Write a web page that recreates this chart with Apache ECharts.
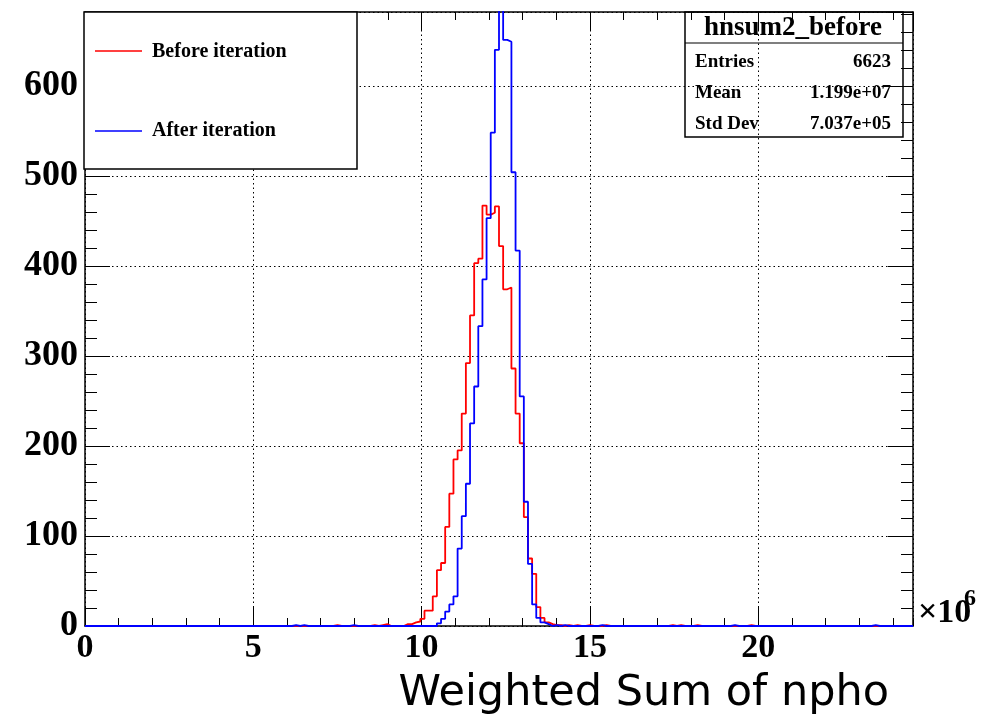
<!DOCTYPE html>
<html><head><meta charset="utf-8">
<script src="https://cdn.jsdelivr.net/npm/echarts@6/dist/echarts.min.js"></script>
<style>html,body{margin:0;padding:0;background:#fff}#c{width:997px;height:715px}</style>
</head><body><div id="c"></div>
<script>
// ---- data (x in units of 10^6) ----
const histTitle = 'hnsum2_before';
const seriesNames = ['Before iteration', 'After iteration'];
const statsLabels = ['Entries', 'Mean', 'Std Dev'];
const statsValues = ['6623', '1.199e+07', '7.037e+05'];
const xTitle = 'Weighted Sum of npho';
const xExponent = '6';
const nBins = 200;
const xLow = 0;
const xHigh = 24.6;
const yTop = 682;

const beforeStartBin = 77;
const beforeCounts = [2,2,4,5,8,17,17,33,62,70,110,147,185,195,236,292,345,403,408,467,457,459,466,422,374,376,286,236,203,121,75,58,21,9,4,2,1];
const beforeExtraBins = [60,69,71,72,114,116,118,121,125,141,143,147,160];
const beforeExtraCounts = [1,1,1,2,1,1,1,1,1,1,1,1,1];

const afterStartBin = 85;
const afterCounts = [3,8,16,24,33,86,122,158,225,266,333,385,453,548,640,700,651,649,504,417,255,138,69,24,9,4,2];
const afterExtraBins = [50,52,64,113,115,124,156,190];
const afterExtraCounts = [1,1,1,1,1,1,1,1];

// ---- build histogram step outlines ----
function fullHist(start, counts, exBins, exCounts) {
  const h = new Array(nBins).fill(0);
  counts.forEach((c, i) => { h[start + i] = c; });
  exBins.forEach((b, i) => { h[b] += exCounts[i]; });
  return h;
}
function stepPoints(h) {
  const w = (xHigh - xLow) / nBins;
  const pts = h.map((c, k) => [xLow + k * w, c]);
  pts.push([xHigh, h[nBins - 1]]);
  return pts;
}
const beforeHist = fullHist(beforeStartBin, beforeCounts, beforeExtraBins, beforeExtraCounts);
const afterHist = fullHist(afterStartBin, afterCounts, afterExtraBins, afterExtraCounts);

const serif = '"Liberation Serif", "Times New Roman", serif';
const black = '#000';

function axisDef(isX, pos, interval, tickLen, opts) {
  return Object.assign({
    type: 'value', min: isX ? xLow : 0, max: isX ? xHigh : yTop, interval: interval, position: pos,
    axisLine: { show: false, onZero: false },
    axisTick: { show: true, inside: true, length: tickLen, lineStyle: { color: black, width: 1 } },
    axisLabel: { show: false },
    splitLine: { show: false },
    minorTick: { show: false }
  }, opts || {});
}
const dotted = { show: true, lineStyle: { color: black, width: 1, type: [1.5, 3] } };
const frameLine = { show: true, onZero: false, lineStyle: { color: black, width: 1.5 } };

const chart = echarts.init(document.getElementById('c'), null, { renderer: 'canvas' });
const option = {
  animation: false,
  backgroundColor: '#fff',
  grid: { left: 85, top: 12, right: 84, bottom: 89, containLabel: false },
  xAxis: [
    axisDef(true, 'bottom', 5, 19, {
      axisLine: frameLine, splitLine: dotted,
      axisLabel: { show: true, showMaxLabel: false, color: black, fontFamily: serif, fontWeight: 'bold', fontSize: 34, lineHeight: 34, margin: 5 }
    }),
    axisDef(true, 'bottom', 1, 8),
    axisDef(true, 'top', 5, 19, { axisLine: frameLine }),
    axisDef(true, 'top', 1, 8)
  ],
  yAxis: [
    axisDef(false, 'left', 100, 25, {
      axisLine: frameLine, splitLine: dotted,
      axisLabel: { show: true, showMaxLabel: false, color: black, fontFamily: serif, fontWeight: 'bold', fontSize: 36, lineHeight: 36, margin: 7, padding: [7, 0, 0, 0] }
    }),
    axisDef(false, 'left', 20, 12),
    axisDef(false, 'right', 100, 25, { axisLine: frameLine }),
    axisDef(false, 'right', 20, 12)
  ],
  series: [
    { name: seriesNames[0], type: 'line', step: 'end', xAxisIndex: 0, yAxisIndex: 0,
      data: stepPoints(beforeHist), showSymbol: false, symbol: 'none', clip: true, z: 3,
      lineStyle: { color: '#ff0000', width: 1.8 } },
    { name: seriesNames[1], type: 'line', step: 'end', xAxisIndex: 0, yAxisIndex: 0,
      data: stepPoints(afterHist), showSymbol: false, symbol: 'none', clip: true, z: 4,
      lineStyle: { color: '#0000ff', width: 1.8 } }
  ],
  graphic: [
    // legend box (opaque)
    { type: 'rect', z: 100, shape: { x: 84, y: 12, width: 273, height: 157 },
      style: { fill: '#fff', stroke: black, lineWidth: 1.5 } },
    { type: 'line', z: 101, shape: { x1: 95, y1: 51, x2: 142, y2: 51 }, style: { stroke: '#ff0000', lineWidth: 1.6 } },
    { type: 'text', z: 101, x: 152, y: 52, style: { text: seriesNames[0], fill: black, font: 'bold 20px ' + serif, align: 'left', verticalAlign: 'middle' } },
    { type: 'line', z: 101, shape: { x1: 95, y1: 131, x2: 142, y2: 131 }, style: { stroke: '#0000ff', lineWidth: 1.6 } },
    { type: 'text', z: 101, x: 152, y: 131, style: { text: seriesNames[1], fill: black, font: 'bold 20px ' + serif, align: 'left', verticalAlign: 'middle' } },
    // stats box (transparent)
    { type: 'rect', z: 100, shape: { x: 685, y: 12, width: 218, height: 125 },
      style: { fill: 'none', stroke: black, lineWidth: 1.5 } },
    { type: 'line', z: 101, shape: { x1: 685, y1: 43, x2: 903, y2: 43 }, style: { stroke: black, lineWidth: 1.2 } },
    { type: 'text', z: 101, x: 793, y: 28, style: { text: histTitle, fill: black, font: 'bold 27px ' + serif, align: 'center', verticalAlign: 'middle' } },
    { type: 'text', z: 101, x: 695, y: 62, style: { text: statsLabels[0], fill: black, font: 'bold 19px ' + serif, align: 'left', verticalAlign: 'middle' } },
    { type: 'text', z: 101, x: 891, y: 62, style: { text: statsValues[0], fill: black, font: 'bold 19px ' + serif, align: 'right', verticalAlign: 'middle' } },
    { type: 'text', z: 101, x: 695, y: 93, style: { text: statsLabels[1], fill: black, font: 'bold 19px ' + serif, align: 'left', verticalAlign: 'middle' } },
    { type: 'text', z: 101, x: 891, y: 93, style: { text: statsValues[1], fill: black, font: 'bold 19px ' + serif, align: 'right', verticalAlign: 'middle' } },
    { type: 'text', z: 101, x: 695, y: 124, style: { text: statsLabels[2], fill: black, font: 'bold 19px ' + serif, align: 'left', verticalAlign: 'middle' } },
    { type: 'text', z: 101, x: 891, y: 124, style: { text: statsValues[2], fill: black, font: 'bold 19px ' + serif, align: 'right', verticalAlign: 'middle' } },
    // x10^6 exponent
    { type: 'text', z: 101, x: 918, y: 613, style: { text: '\u00d710', fill: black, font: 'bold 34px ' + serif, align: 'left', verticalAlign: 'middle' } },
    { type: 'text', z: 101, x: 964, y: 599, style: { text: xExponent, fill: black, font: 'bold 24px ' + serif, align: 'left', verticalAlign: 'middle' } },
    // x-axis title
    { type: 'text', z: 101, x: 889, y: 694, style: { text: xTitle, fill: black, font: '43px "DejaVu Sans", sans-serif', align: 'right', verticalAlign: 'middle' } }
  ]
};
chart.setOption(option);
</script>
</body></html>
